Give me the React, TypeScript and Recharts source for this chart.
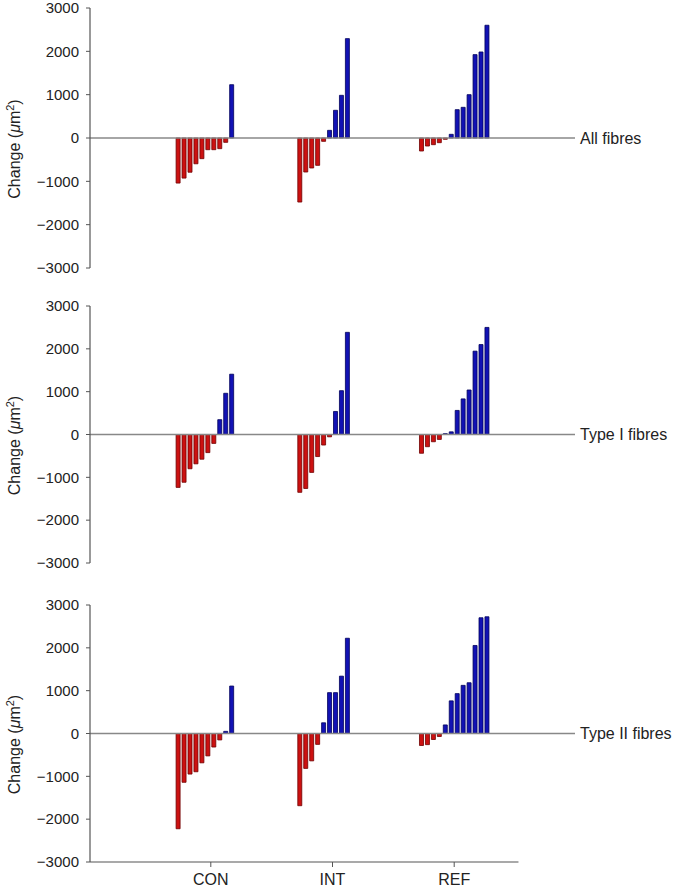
import React from "react";
import {
  BarChart,
  Bar,
  XAxis,
  YAxis,
  Cell,
  ReferenceLine,
} from "recharts";

// groups along the x axis
const groups = ["CON", "INT", "REF"];
const groupTicks = [20.3, 40.75, 61.2];
const yTicks = [-3000, -2000, -1000, 0, 1000, 2000, 3000];

// change per subject (µm²), sorted within each group
const allCon = [-1040, -925, -790, -595, -477, -270, -270, -246, -100, 1230];
const allInt = [-1478, -785, -692, -631, -77, 177, 639, 985, 2293];
const allRef = [-300, -185, -154, -108, -30, 85, 654, 708, 1000, 1924, 1985, 2602];

const typeICon = [-1235, -1115, -800, -685, -577, -423, -208, 346, 962, 1408];
const typeIInt = [-1350, -1260, -885, -515, -246, -54, 538, 1023, 2385];
const typeIRef = [-438, -285, -169, -115, 20, 62, 562, 831, 1039, 1946, 2100, 2500];

const typeIICon = [-2224, -1139, -947, -893, -685, -523, -316, -150, 50, 1108];
const typeIIInt = [-1686, -815, -639, -254, 250, 954, 954, 1339, 2224];
const typeIIRef = [-280, -260, -140, -70, 200, 762, 931, 1124, 1185, 2055, 2702, 2725];

const panels = [
  { name: "All fibres", series: [allCon, allInt, allRef] },
  { name: "Type I fibres", series: [typeICon, typeIInt, typeIRef] },
  { name: "Type II fibres", series: [typeIICon, typeIIInt, typeIIRef] },
];

const buildRows = (series: number[][]) =>
  series.flatMap((vals, gi) =>
    vals.map((v, i) => ({ x: groupTicks[gi] - 5.5 + i, v }))
  );

const fmt = (v: number) => (v < 0 ? `\u2212${Math.abs(v)}` : `${v}`);

const YLabel = (props: any) => {
  const vb = props.viewBox || {};
  const cy = (vb.y ?? 0) + (vb.height ?? 0) / 2 + 11;
  return (
    <text
      x={19.5}
      y={cy}
      transform={`rotate(-90, 19.5, ${cy})`}
      textAnchor="middle"
      fontSize={16}
      fill="#222"
    >
      Change (<tspan fontStyle="italic">μ</tspan>m
      <tspan baselineShift="super" fontSize={11}>
        2
      </tspan>
      )
    </text>
  );
};

const layout = [
  { top: 0, height: 300, margin: { top: 8, right: 98, left: 0, bottom: 32 } },
  { top: 298, height: 300, margin: { top: 8, right: 98, left: 0, bottom: 35 } },
  { top: 597, height: 296, margin: { top: 8, right: 98, left: 0, bottom: 0 } },
];

const App: React.FC = () => (
  <div
    style={{
      position: "absolute",
      left: 0,
      top: 0,
      width: 673,
      height: 893,
      background: "#fff",
      fontFamily: "'Liberation Sans', Arial, sans-serif",
    }}
  >
    {panels.map((p, pi) => {
      const rows = buildRows(p.series);
      const last = pi === panels.length - 1;
      const l = layout[pi];
      return (
        <div key={p.name} style={{ position: "absolute", left: 0, top: l.top }}>
          <BarChart width={673} height={l.height} data={rows} margin={l.margin}>
            <XAxis
              dataKey="x"
              type="number"
              domain={[0, 81.5]}
              hide={!last}
              height={31}
              ticks={groupTicks}
              tickFormatter={(v: number) => groups[groupTicks.indexOf(v)] ?? ""}
              axisLine={false}
              tickLine={{ stroke: "#555" }}
              tickSize={5}
              tickMargin={7}
              tick={{ fontSize: 16, fill: "#222" }}
            />
            <YAxis
              type="number"
              domain={[-3000, 3000]}
              ticks={yTicks}
              interval={0}
              width={90}
              tickFormatter={fmt}
              axisLine={{ stroke: "#555", strokeWidth: 1.2 }}
              tickLine={{ stroke: "#555" }}
              tickSize={4}
              tickMargin={7}
              tick={{ fontSize: 15, fill: "#222" }}
              label={<YLabel />}
            />
            <ReferenceLine
              y={0}
              stroke="#888"
              strokeWidth={1.5}
              label={{ value: p.name, position: "right", fill: "#222", fontSize: 16 }}
            />
            {last && (
              <ReferenceLine
                segment={[
                  { x: 0, y: -3000 },
                  { x: 72, y: -3000 },
                ]}
                stroke="#555"
                strokeWidth={1.2}
              />
            )}
            <Bar dataKey="v" barSize={4} isAnimationActive={false} strokeWidth={0.8}>
              {rows.map((r, i) => (
                <Cell
                  key={`c-${i}`}
                  fill={r.v < 0 ? "#cc1111" : "#1212b4"}
                  stroke={r.v < 0 ? "#6e0000" : "#00005a"}
                />
              ))}
            </Bar>
          </BarChart>
        </div>
      );
    })}
  </div>
);

export default App;
